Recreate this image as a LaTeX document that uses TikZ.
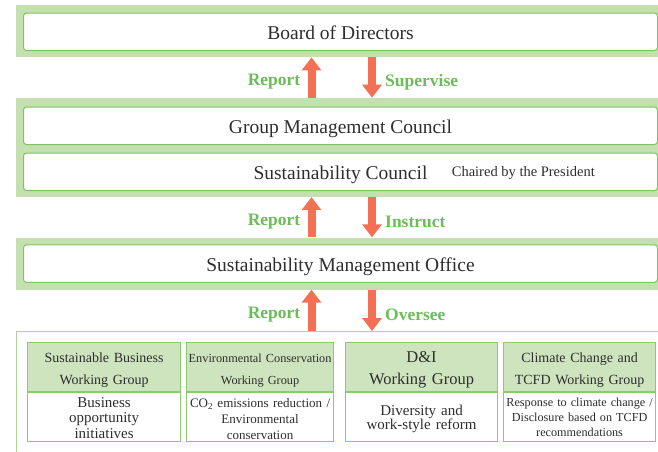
\documentclass[tikz,border=0pt]{standalone}
\usepackage{fontspec}
\setmainfont{Liberation Serif}
\usetikzlibrary{arrows.meta,positioning,calc}

\definecolor{bandgreen}{HTML}{C4DFB0}
\definecolor{unitline}{HTML}{7DC35F}
\definecolor{framegreen}{HTML}{A9D694}
\definecolor{headfill}{HTML}{CDE4BE}
\definecolor{headline}{HTML}{8ACB70}
\definecolor{taggreen}{HTML}{6BBD58}
\definecolor{flowred}{HTML}{F37055}
\definecolor{ink}{HTML}{2E2E2E}

\begin{document}
\begin{tikzpicture}[x=1pt,y=-1pt,
		band/.style={
			fill=bandgreen,anchor=north west,inner sep=0pt,minimum width=660pt
		},
		unit/.style={
			draw=unitline,line width=1pt,fill=white,rounded corners=3pt,
			anchor=north west,inner sep=0pt,minimum width=634pt,minimum height=37.5pt,
			text height=16pt,text depth=0pt,
			text=ink,font=\fontsize{19.5}{22}\selectfont
		},
		flow/.style={
			draw=flowred,line width=8pt,-{Triangle[width=19pt,length=13pt]}
		},
		tag/.style={
			text=taggreen,inner sep=0pt,yshift=-4.5pt,font=\fontsize{17.5}{20}\selectfont\bfseries
		},
		wghead/.style={
			draw=headline,line width=1.2pt,fill=headfill,text=ink,align=center,
			anchor=north west,inner xsep=0pt,inner ysep=0pt,text width=#1,minimum height=49pt
		},
		wgbody/.style={
			draw=headline,line width=1.2pt,fill=white,text=ink,align=center,
			anchor=north,inner xsep=0pt,inner ysep=0pt,text width=#1,minimum height=49pt
		}
	]
	\useasboundingbox (0,0) rectangle (658,451);

	% arrow columns
	\coordinate (upx) at (311.5,0);
	\coordinate (downx) at (372,0);

	% top: board
	\node[band,minimum height=52pt] (boardband) at (16,5) {};
	\node[unit] (board) at (23,12.5) {Board of Directors};

	% middle: councils
	\node[band,minimum height=99pt] (councilband) at (16,97.7) {};
	\node[unit] (gmc) at (23,106.5) {Group Management Council};
	\node[unit,below=7.5pt of gmc.south west,anchor=north west] (council) {Sustainability Council};
	\node[text=ink,inner sep=0pt,anchor=east,yshift=-1pt,font=\fontsize{14.5}{16}\selectfont]
		(chair) at ([xshift=-63pt]council.east) {Chaired by the President};

	% office
	\node[band,minimum height=52pt] (officeband) at (16,237.3) {};
	\node[unit] (office) at (23,244.3) {Sustainability Management Office};

	% working groups
	\node[draw=framegreen,line width=1.2pt,fill=white,anchor=north west,inner sep=0pt,
		minimum width=700pt,minimum height=160pt] (groupframe) at (16,331) {};

	\node[wghead=153pt,text height=15.5pt,font=\fontsize{14}{22}\selectfont] (bizhead) at (27,342)
		{Sustainable Business\\Working Group};
	\node[wgbody=153pt,text height=11.5pt,font=\fontsize{15}{15.5}\selectfont] (bizbody) at (bizhead.south)
		{Business\\opportunity\\initiatives};

	\node[wghead=147pt,text height=14.5pt,font=\fontsize{12.3}{22}\selectfont] (envhead) at (186,342)
		{Environmental Conservation\\Working Group};
	\node[wgbody=147pt,text height=13.5pt,font=\fontsize{13}{16}\selectfont] (envbody) at (envhead.south)
		{CO\textsubscript{2} emissions reduction /\\Environmental\\conservation};

	\node[wghead=152pt,text height=17pt,font=\fontsize{16.5}{22}\selectfont] (dihead) at (345,342)
		{D\&I\\Working Group};
	\node[wgbody=152pt,text height=14.5pt,font=\fontsize{15}{14}\selectfont] (dibody) at (dihead.south)
		{Diversity and\\work-style reform};

	\node[wghead=152pt,text height=15.5pt,font=\fontsize{14}{22}\selectfont] (tcfdhead) at (503,342)
		{Climate Change and\\TCFD Working Group};
	\node[wgbody=152pt,font=\fontsize{12.2}{15}\selectfont] (tcfdbody) at (tcfdhead.south)
		{Response to climate change /\\Disclosure based on TCFD\\recommendations};

	% report / instruct arrows
	\draw[flow] (councilband.north -| upx) -- (boardband.south -| upx);
	\draw[flow] (boardband.south -| downx) -- (councilband.north -| downx);
	\draw[flow] (officeband.north -| upx) -- (councilband.south -| upx);
	\draw[flow] (councilband.south -| downx) -- (officeband.north -| downx);
	\draw[flow] (groupframe.north -| upx) -- (officeband.south -| upx);
	\draw[flow] (officeband.south -| downx) -- (groupframe.north -| downx);

	\node[tag,left=11pt of {$(boardband.south -| upx)!0.5!(councilband.north -| upx)$}] (rep1) {Report};
	\node[tag,right=13pt of {$(boardband.south -| downx)!0.5!(councilband.north -| downx)$}] (sup) {Supervise};
	\node[tag,left=11pt of {$(councilband.south -| upx)!0.5!(officeband.north -| upx)$}] (rep2) {Report};
	\node[tag,right=13pt of {$(councilband.south -| downx)!0.5!(officeband.north -| downx)$}] (ins) {Instruct};
	\node[tag,left=11pt of {$(officeband.south -| upx)!0.5!(groupframe.north -| upx)$}] (rep3) {Report};
	\node[tag,right=13pt of {$(officeband.south -| downx)!0.5!(groupframe.north -| downx)$}] (ovs) {Oversee};
\end{tikzpicture}
\end{document}
